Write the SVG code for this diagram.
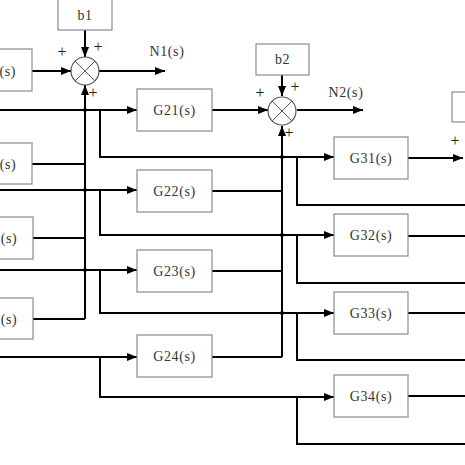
<svg xmlns="http://www.w3.org/2000/svg" width="465" height="465" viewBox="0 0 465 465">
<defs>
<marker id="ah" viewBox="0 0 10 8" refX="10" refY="4" markerWidth="10" markerHeight="8" markerUnits="userSpaceOnUse" orient="auto">
<path d="M0,0 L10,4 L0,8 Z" fill="#000"/>
</marker>
<style>
.box{fill:#fff;stroke:#8a8a8a;stroke-width:1.2}
.lbl{font-family:"Liberation Serif",serif;font-size:14px;fill:#333;text-anchor:middle;letter-spacing:0.6px}
.pl{font-family:"Liberation Serif",serif;font-size:16px;fill:#222;text-anchor:middle}
.w{fill:none;stroke:#000;stroke-width:2}
.a{fill:none;stroke:#000;stroke-width:2;marker-end:url(#ah)}
.sum{fill:#fff;stroke:#555;stroke-width:1.2}
.x{stroke:#555;stroke-width:1}
</style>
</defs>
<rect width="465" height="465" fill="#fff"/>
<g id="connectors">
<!-- column 1 outputs to sum1 -->
<path class="a" d="M32,71 H71"/>
<path class="a" d="M85,30 V57"/>
<path class="a" d="M99,71 H165"/>
<path class="a" d="M85,319 V85"/>
<path class="w" d="M32,164 H85"/>
<path class="w" d="M33,238 H85"/>
<path class="w" d="M33,319 H85"/>
<!-- inputs to column 2 -->
<path class="a" d="M0,110 H137"/>
<path class="a" d="M0,190 H137"/>
<path class="a" d="M0,270 H137"/>
<path class="a" d="M0,357 H137"/>
<!-- branches to column 3 -->
<path class="a" d="M100,110 V157 H334"/>
<path class="a" d="M100,190 V235 H334"/>
<path class="a" d="M100,270 V313 H334"/>
<path class="a" d="M100,357 V397 H334"/>
<!-- column 2 outputs to sum2 -->
<path class="a" d="M212,110 H268"/>
<path class="a" d="M282,75 V96"/>
<path class="a" d="M297,110 H363"/>
<path class="a" d="M282,357 V126"/>
<path class="w" d="M212,191 H282"/>
<path class="w" d="M212,271 H282"/>
<path class="w" d="M212,357 H282"/>
<!-- column 3 outputs -->
<path class="a" d="M408,158 H463"/>
<path class="w" d="M408,236 H465"/>
<path class="w" d="M408,313 H465"/>
<path class="w" d="M408,396 H465"/>
<!-- branches to next column -->
<path class="w" d="M297,157 V205 H465"/>
<path class="w" d="M297,235 V283 H465"/>
<path class="w" d="M297,313 V360 H465"/>
<path class="w" d="M297,397 V444 H465"/>
<!-- crossings -->
<g fill="#000">
<circle cx="85" cy="110" r="2"/>
<circle cx="85" cy="190" r="2"/>
<circle cx="85" cy="270" r="2"/>
<circle cx="282" cy="157" r="2"/>
<circle cx="282" cy="235" r="2"/>
<circle cx="282" cy="313" r="2"/>
</g>
</g>
<g id="G11"><rect class="box" x="-42" y="49" width="74" height="42"/><text class="lbl" x="-5" y="76">G11(s)</text></g>
<g id="G12"><rect class="box" x="-42" y="143" width="74" height="41"/><text class="lbl" x="-5" y="169">G12(s)</text></g>
<g id="G13"><rect class="box" x="-41" y="217" width="74" height="42"/><text class="lbl" x="-4" y="243">G13(s)</text></g>
<g id="G14"><rect class="box" x="-41" y="298" width="74" height="41"/><text class="lbl" x="-4" y="324">G14(s)</text></g>
<g id="b1"><rect class="box" x="58" y="-2" width="54" height="32"/><text class="lbl" x="85" y="20">b1</text></g>
<g id="sum1"><circle class="sum" cx="85" cy="71" r="14"/><path class="x" d="M75.1,61.1 L94.9,80.9 M94.9,61.1 L75.1,80.9"/>
<text class="pl" x="62" y="57">+</text><text class="pl" x="98" y="52">+</text><text class="pl" x="93" y="98">+</text></g>
<g id="N1"><text class="lbl" x="167" y="56">N1(s)</text></g>
<g id="G21"><rect class="box" x="137" y="89" width="75" height="42"/><text class="lbl" x="174.5" y="115">G21(s)</text></g>
<g id="G22"><rect class="box" x="137" y="170" width="75" height="42"/><text class="lbl" x="174.5" y="196">G22(s)</text></g>
<g id="G23"><rect class="box" x="137" y="250" width="75" height="42"/><text class="lbl" x="174.5" y="276">G23(s)</text></g>
<g id="G24"><rect class="box" x="137" y="335" width="75" height="42"/><text class="lbl" x="174.5" y="361">G24(s)</text></g>
<g id="b2"><rect class="box" x="256" y="44" width="53" height="31"/><text class="lbl" x="282.5" y="64">b2</text></g>
<g id="sum2"><circle class="sum" cx="282" cy="111" r="14"/><path class="x" d="M272.1,101.1 L291.9,120.9 M291.9,101.1 L272.1,120.9"/>
<text class="pl" x="260" y="98">+</text><text class="pl" x="295" y="92">+</text><text class="pl" x="289" y="138">+</text></g>
<g id="N2"><text class="lbl" x="346" y="97">N2(s)</text></g>
<g id="G31"><rect class="box" x="334" y="137" width="74" height="42"/><text class="lbl" x="371" y="163">G31(s)</text></g>
<g id="G32"><rect class="box" x="334" y="214" width="74" height="42"/><text class="lbl" x="371" y="240">G32(s)</text></g>
<g id="G33"><rect class="box" x="334" y="292" width="74" height="42"/><text class="lbl" x="371" y="318">G33(s)</text></g>
<g id="G34"><rect class="box" x="334" y="375" width="74" height="42"/><text class="lbl" x="371" y="401">G34(s)</text></g>
<g id="b3"><rect class="box" x="452" y="92" width="30" height="30"/><text class="pl" x="455" y="146">+</text></g>
</svg>
